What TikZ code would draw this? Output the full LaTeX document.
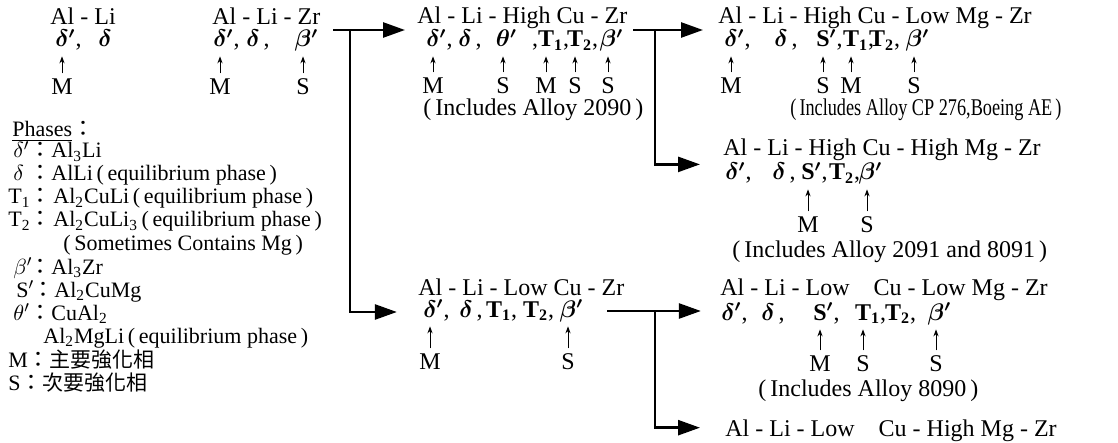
\documentclass[tikz,border=0pt]{standalone}
\usepackage{fontspec}
\setmainfont{Liberation Serif}
\newfontfamily\cjk{Noto Sans CJK TC}
\usetikzlibrary{arrows.meta,positioning}

\tikzset{
  every node/.style={font=\fontsize{12}{14}\selectfont, inner sep=0pt},
  alloy/.style={anchor=base west, text depth=0pt},
  sym/.style={anchor=base, text height=7pt, text depth=2pt, font=\fontsize{12}{14}\selectfont\boldmath},
  role/.style={text height=8pt, text depth=0pt},
  note/.style={anchor=base west},
  key/.style={anchor=base west, font=\fontsize{11}{13}\selectfont},
  up/.style={-{Stealth[length=3.5pt,width=2.6pt]}, line width=0.5pt, shorten <=2.5pt, shorten >=2.5pt},
  feed/.style={-{Triangle[length=11pt,width=7.5pt]}, line width=1.3pt},
}
\newcommand{\pcolon}{{\cjk ：}}
\newcommand{\phs}[3][8pt]{\makebox[#1][l]{#2}\pcolon#3}
\newcommand{\bT}[1]{\textbf{T}\rlap{\textbf{\textsubscript{#1}},}}

\begin{document}
\begin{tikzpicture}[x=0.5pt, y=-0.5pt]
    \useasboundingbox (0,0) rectangle (1118,443);

    % Al-Li
    \node[alloy] (g1t) at (50,25) {Al - Li};
    \node[sym] (g1a) at (62,47) {$\delta$\rlap{$'$,}};
    \node[sym] (g1b) at (105,47) {$\delta$};
    \node[role, below=13.5pt of g1a] (g1m) {M};
    \draw[up] (g1m) -- (g1a);

    % Al-Li-Zr
    \node[alloy] (g2t) at (212,25) {Al - Li - Zr};
    \node[sym] (g2a) at (220,47) {$\delta$\rlap{$'$,}};
    \node[sym] (g2b) at (253,47) {$\delta$\rlap{\,,}};
    \node[sym] (g2c) at (303,47) {$\beta$\rlap{$'$}};
    \node[role, below=13.5pt of g2a] (g2m) {M};
    \node[role, below=13.5pt of g2c] (g2s) {S};
    \draw[up] (g2m) -- (g2a);
    \draw[up] (g2s) -- (g2c);

    % Al-Li-High Cu-Zr
    \node[alloy] (g3t) at (417,24) {Al - Li - High Cu - Zr};
    \node[sym] (g3a) at (433,47) {$\delta$\rlap{$'$,}};
    \node[sym] (g3b) at (465,47) {$\delta$\rlap{\,,}};
    \node[sym] (g3c) at (503,47) {$\theta$\rlap{$'$}};
    \node[sym] (g3d) at (546,47) {\llap{,}\bT{1}};
    \node[sym] (g3e) at (575,47) {\bT{2}};
    \node[sym] (g3f) at (608,47) {$\beta$\rlap{$'$}};
    \node[role, below=13pt of g3a] (g3m1) {M};
    \node[role, below=13pt of g3c] (g3s1) {S};
    \node[role, below=13pt of g3d] (g3m2) {M};
    \node[role, below=13pt of g3e] (g3s2) {S};
    \node[role, below=13pt of g3f] (g3s3) {S};
    \foreach \a/\b in {g3m1/g3a, g3s1/g3c, g3m2/g3d, g3s2/g3e, g3s3/g3f}
        \draw[up] (\a) -- (\b);
    \node[note] (g3i) at (423,116) {(\,Includes Alloy 2090\,)};

    % Al-Li-High Cu-Low Mg-Zr
    \node[alloy] (g4t) at (718,24) {Al - Li - High Cu - Low Mg - Zr};
    \node[sym] (g4a) at (731,47) {$\delta$\rlap{$'$,}};
    \node[sym] (g4b) at (781,47) {$\delta$\rlap{\,,}};
    \node[sym] (g4c) at (823,47) {\textbf{S}\rlap{$'$,}};
    \node[sym] (g4d) at (851,47) {\bT{1}};
    \node[sym] (g4e) at (877,47) {\bT{2}};
    \node[sym] (g4f) at (914,47) {$\beta$\rlap{$'$}};
    \node[role, below=13pt of g4a] (g4m1) {M};
    \node[role, below=13pt of g4c] (g4s1) {S};
    \node[role, below=13pt of g4d] (g4m2) {M};
    \node[role, below=13pt of g4f] (g4s2) {S};
    \foreach \a/\b in {g4m1/g4a, g4s1/g4c, g4m2/g4d, g4s2/g4f}
        \draw[up] (\a) -- (\b);
    \node[note] (g4i) at (790,116) {\scalebox{0.76}[1]{(\,Includes Alloy CP 276,Boeing AE\,)}};

    % Al-Li-High Cu-High Mg-Zr
    \node[alloy] (g5t) at (723,156) {Al - Li - High Cu - High Mg - Zr};
    \node[sym] (g5a) at (732,180) {$\delta$\rlap{$'$,}};
    \node[sym] (g5b) at (779,180) {$\delta$\rlap{\,,}};
    \node[sym] (g5c) at (808,180) {\textbf{S}\rlap{$'$,}};
    \node[sym] (g5d) at (837,180) {\bT{2}};
    \node[sym] (g5e) at (867,180) {$\beta$\rlap{$'$}};
    \node[role, below=16pt of g5c] (g5m) {M};
    \node[role, below=16pt of g5e] (g5s) {S};
    \draw[up] (g5m) -- (g5c);
    \draw[up] (g5s) -- (g5e);
    \node[note] (g5i) at (732,257) {(\,Includes Alloy 2091 and 8091\,)};

    % Al-Li-Low Cu-Zr
    \node[alloy] (g6t) at (418,295) {Al - Li - Low Cu - Zr};
    \node[sym] (g6a) at (430,317) {$\delta$\rlap{$'$,}};
    \node[sym] (g6b) at (466,317) {$\delta$\rlap{\,,}};
    \node[sym] (g6c) at (494,317) {\bT{1}};
    \node[sym] (g6d) at (531,317) {\bT{2}};
    \node[sym] (g6e) at (568,317) {$\beta$\rlap{$'$}};
    \node[role, below=16pt of g6a] (g6m) {M};
    \node[role, below=16pt of g6e] (g6s) {S};
    \draw[up] (g6m) -- (g6a);
    \draw[up] (g6s) -- (g6e);

    % Al-Li-Low Cu-Low Mg-Zr
    \node[alloy] (g7t) at (720,295) {Al - Li - Low\quad Cu - Low Mg - Zr};
    \node[sym] (g7a) at (728,320) {$\delta$\rlap{$'$,}};
    \node[sym] (g7b) at (768,320) {$\delta$\rlap{\,,}};
    \node[sym] (g7c) at (820,320) {\textbf{S}\rlap{$'$,}};
    \node[sym] (g7d) at (863,320) {\bT{1}};
    \node[sym] (g7e) at (893,320) {\bT{2}};
    \node[sym] (g7f) at (936,320) {$\beta$\rlap{$'$}};
    \node[role, below=15.5pt of g7c] (g7m) {M};
    \node[role, below=15.5pt of g7d] (g7s1) {S};
    \node[role, below=15.5pt of g7f] (g7s2) {S};
    \foreach \a/\b in {g7m/g7c, g7s1/g7d, g7s2/g7f}
        \draw[up] (\a) -- (\b);
    \node[note] (g7i) at (758,396) {(\,Includes Alloy 8090\,)};

    % Al-Li-Low Cu-High Mg-Zr
    \node[alloy] (g8t) at (725,436) {Al - Li - Low\quad Cu - High Mg - Zr};

    % branch lines
    \coordinate (s2) at (333,30);
    \coordinate (j2) at (350,30);
    \coordinate (s3) at (633,30);
    \coordinate (j3) at (655,30);
    \coordinate (s6) at (607,311);
    \coordinate (j6) at (655,311);
    \draw[feed, shorten >=6pt] (s2) -- (s2 -| g3t.west);
    \draw[feed, shorten >=13pt] (j2) |- (g6a.west);
    \draw[feed, shorten >=7.5pt] (s3) -- (s3 -| g4t.west);
    \draw[feed, shorten >=11.5pt] (j3) |- ([yshift=-4pt]g5t.south west);
    \draw[feed, shorten >=10pt] (s6) -- (s6 -| g7a.west);
    \draw[feed, shorten >=12.5pt] (j6) |- (g8t.west);

    % phases list
    \node[key] (ph) at (12,137) {\underline{Phases}\pcolon};
    \node[key] (lg1) at (13,158) {\phs{$\delta'$}{Al\textsubscript{3}Li}};
    \node[key] (lg2) at (13,181) {\phs{$\delta$}{AlLi\,(\,equilibrium phase\,)}};
    \node[key] (lg3) at (8,204) {\phs[10.5pt]{T\textsubscript{1}}{\hspace{1pt}Al\textsubscript{2}CuLi\,(\,equilibrium phase\,)}};
    \node[key] (lg4) at (8,227) {\phs[10.5pt]{T\textsubscript{2}}{\hspace{1pt}Al\textsubscript{2}CuLi\textsubscript{3}\,(\,equilibrium phase\,)}};
    \node[key] (lg5) at (63,250) {(\,Sometimes Contains Mg\,)};
    \node[key] (lg6) at (13,274) {\phs{$\beta'$}{Al\textsubscript{3}Zr}};
    \node[key] (lg7) at (16,297) {\phs{S$'$}{Al\textsubscript{2}CuMg}};
    \node[key] (lg8) at (13,320) {\phs{$\theta'$}{CuAl\textsubscript{2}}};
    \node[key] (lg9) at (43,343) {Al\textsubscript{2}MgLi\,(\,equilibrium phase\,)};
    \node[key] (lg10) at (8,367) {M\pcolon{\cjk\fontsize{10.5}{12}\selectfont 主要強化相}};
    \node[key] (lg11) at (8,390) {S\pcolon{\cjk\fontsize{10.5}{12}\selectfont 次要強化相}};
\end{tikzpicture}
\end{document}
